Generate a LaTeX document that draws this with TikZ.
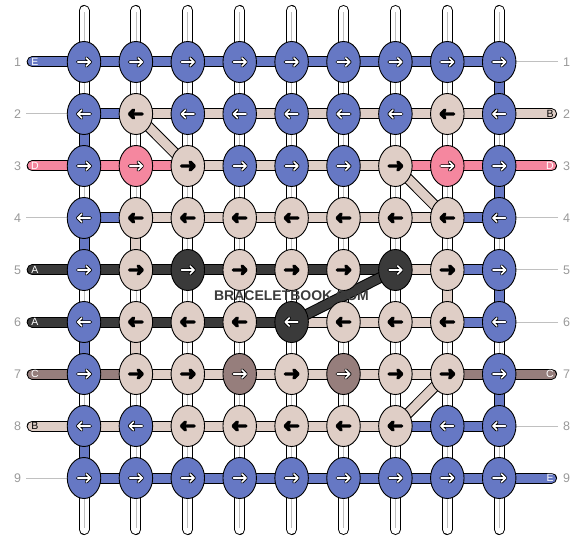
\documentclass[tikz,border=0pt]{standalone}
\usepackage{fontspec}
\setmainfont{Liberation Sans}
\usetikzlibrary{shapes.geometric}
\definecolor{cU}{HTML}{6678C4}
\definecolor{cW}{HTML}{DFCEC6}
\definecolor{cP}{HTML}{F5879F}
\definecolor{cK}{HTML}{3A3A3A}
\definecolor{cM}{HTML}{967E7C}
\definecolor{numgray}{HTML}{999999}
\definecolor{linegray}{HTML}{C0C0C0}
\definecolor{stripe}{HTML}{BEBEBE}
\definecolor{wmark}{HTML}{3C3C3C}

\tikzset{
 knot/.style={ellipse, draw=black, line width=0.9pt, minimum width=33.5pt, minimum height=41pt, inner sep=0pt},
 bar/.style={draw=black, line width=1pt, double=#1, double distance=9pt},
 rownum/.style={text=numgray, font=\fontsize{12.5}{13}\selectfont, inner sep=0pt},
 tlabel/.style={font=\fontsize{10.5}{11}\selectfont, inner sep=0pt},
 nothread/.style={draw=linegray, line width=1pt},
 arrout/.style={draw=black, line width=3.4pt, line cap=round, line join=round},
 arrin/.style={draw=#1, line width=1.6pt, line cap=round, line join=round},
}

\newcommand\knotrow[3]{%
 \foreach \kc/\ac [count=\ci] in {#3}{%
  \node[knot, fill=c\kc] (k-#1-\ci) at (c-#1-\ci) {};
  \begin{scope}[shift={(c-#1-\ci)}, xscale=#2]
   \draw[arrout] (-6.3,0) -- (6.3,0) (2.3,-4) -- (6.3,0) -- (2.3,4);
   \draw[arrin=\ac] (-6.3,0) -- (6.3,0) (2.3,-4) -- (6.3,0) -- (2.3,4);
  \end{scope}
 }}
\newcommand\barrow[2]{%
 \foreach \kc [count=\ci] in {#2}{%
  \pgfmathtruncatemacro\cn{\ci+1}
  \draw[bar=c\kc] (c-#1-\ci) -- (c-#1-\cn);
 }}
\newcommand\vseg[4]{\draw[bar=#4] (c-#1-#3) -- (c-#2-#3);}

\begin{document}
\begin{tikzpicture}[x=1pt,y=-1pt]
\useasboundingbox (0,0) rectangle (584,540);
\fill[white] (0,0) rectangle (584,540);
\foreach \r in {1,...,9}{
 \foreach \ci in {1,...,9}{
  \coordinate (c-\r-\ci) at ({84+(\ci-1)*51.9},{62+(\r-1)*52});
 }
 \coordinate (l-\r) at (32.2,{62+(\r-1)*52});
 \coordinate (r-\r) at (551.5,{62+(\r-1)*52});
 \coordinate (gl-\r) at (26,{62+(\r-1)*52});
 \coordinate (gr-\r) at (558,{62+(\r-1)*52});
 \node[rownum] (nl-\r) at (17.5,{62+(\r-1)*52}) {\r};
 \node[rownum] (nr-\r) at (566.5,{62+(\r-1)*52}) {\r};
}
% vertical warp strands
\foreach \ci in {1,...,9}{
 \coordinate (t-\ci) at ({84+(\ci-1)*51.9},10.5);
 \coordinate (b-\ci) at ({84+(\ci-1)*51.9},529.5);
 \draw[bar=white, line cap=round] (t-\ci) -- (b-\ci);
 \draw[stripe, line width=0.8pt] ([yshift=-2pt]t-\ci) -- ([yshift=2pt]b-\ci);
}
% rows without thread ends
\foreach \r in {2,4,9}{\draw[nothread] (gl-\r) -- (c-\r-1);}
\foreach \r in {1,4,5,6,8}{\draw[nothread] (gr-\r) -- (c-\r-9);}
% thread ends left
\draw[bar=cU, line cap=round] (l-1) -- (c-1-1);
\draw[bar=cP, line cap=round] (l-3) -- (c-3-1);
\draw[bar=cK, line cap=round] (l-5) -- (c-5-1);
\draw[bar=cK, line cap=round] (l-6) -- (c-6-1);
\draw[bar=cM, line cap=round] (l-7) -- (c-7-1);
\draw[bar=cW, line cap=round] (l-8) -- (c-8-1);
% thread ends right
\draw[bar=cW, line cap=round] (r-2) -- (c-2-9);
\draw[bar=cP, line cap=round] (r-3) -- (c-3-9);
\draw[bar=cM, line cap=round] (r-7) -- (c-7-9);
\draw[bar=cU, line cap=round] (r-9) -- (c-9-9);
% horizontal segments
\barrow{1}{U,U,U,U,U,U,U,U}
\barrow{2}{U,W,W,W,W,W,W,W}
\barrow{3}{P,P,W,W,W,W,P,P}
\barrow{4}{U,W,W,W,W,W,W,U}
\barrow{5}{K,K,K,K,K,K,W,U}
\barrow{6}{K,K,K,K,W,W,W,U}
\barrow{7}{M,W,W,W,W,W,W,M}
\barrow{8}{W,W,W,W,W,W,U,U}
\barrow{9}{U,U,U,U,U,U,U,U}
% coloured vertical segments
\foreach \a/\b in {2/3,4/5,6/7,8/9}{\vseg{\a}{\b}{1}{cU}}
\foreach \a/\b in {1/2,3/4,5/6,7/8}{\vseg{\a}{\b}{9}{cU}}
\vseg{4}{5}{2}{cW}
\vseg{6}{7}{2}{cW}
\vseg{5}{6}{8}{cW}
% diagonals
\draw[bar=cW] (c-2-2) -- (c-3-3);
\draw[bar=cW] (c-3-7) -- (c-4-8);
\draw[bar=cK] (c-5-7) -- (c-6-5);
\draw[bar=cW] (c-7-8) -- (c-8-7);
% thread labels
\node[tlabel, text=white] (lt-1) at (35,62) {E};
\node[tlabel, text=white] (lt-3) at (35,166) {D};
\node[tlabel, text=white] (lt-5) at (35,270) {A};
\node[tlabel, text=white] (lt-6) at (35,322) {A};
\node[tlabel, text=white] (lt-7) at (35,374) {C};
\node[tlabel, text=black] (lt-8) at (35,426) {B};
\node[tlabel, text=black] (rt-2) at (550,114) {B};
\node[tlabel, text=white] (rt-3) at (550,166) {D};
\node[tlabel, text=white] (rt-7) at (550,374) {C};
\node[tlabel, text=white] (rt-9) at (550,478) {E};
% knots
\knotrow{1}{1}{U/white,U/white,U/white,U/white,U/white,U/white,U/white,U/white,U/white}
\knotrow{2}{-1}{U/white,W/black,U/white,U/white,U/white,U/white,U/white,W/black,U/white}
\knotrow{3}{1}{U/white,P/white,W/black,U/white,U/white,U/white,W/black,P/white,U/white}
\knotrow{4}{-1}{U/white,W/black,W/black,W/black,W/black,W/black,W/black,W/black,U/white}
\knotrow{5}{1}{U/white,W/black,K/white,W/black,W/black,W/black,K/white,W/black,U/white}
\knotrow{6}{-1}{U/white,W/black,W/black,W/black,K/white,W/black,W/black,W/black,U/white}
\knotrow{7}{1}{U/white,W/black,W/black,M/white,W/black,M/white,W/black,W/black,U/white}
\knotrow{8}{-1}{U/white,U/white,W/black,W/black,W/black,W/black,W/black,U/white,U/white}
\knotrow{9}{1}{U/white,U/white,U/white,U/white,U/white,U/white,U/white,U/white,U/white}
% watermark
\node[font=\bfseries\fontsize{14}{14}\selectfont, text=wmark, inner sep=0pt] (wm) at (291.5,296) {BRACELETBOOK.COM};
\end{tikzpicture}
\end{document}
